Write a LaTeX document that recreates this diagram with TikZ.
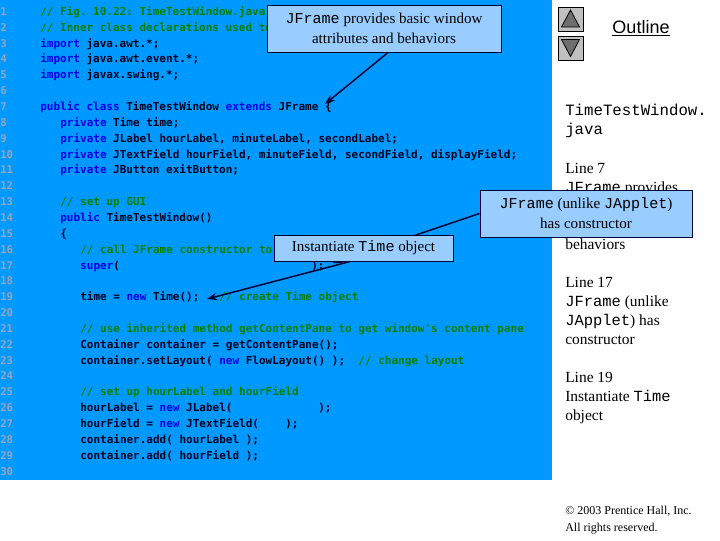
\documentclass[tikz,border=0pt]{standalone}
\usepackage{fontspec}
\setmainfont{Liberation Serif}
\setmonofont{DejaVu Sans Mono}
\newfontfamily\notemono{Liberation Mono}
\newfontfamily\headsans{Liberation Sans}
\usetikzlibrary{arrows.meta}

\definecolor{panelblue}{RGB}{0,153,255}
\definecolor{codeink}{RGB}{0,0,30}
\definecolor{kwblue}{RGB}{0,0,230}
\definecolor{cmgreen}{RGB}{0,128,0}
\definecolor{linegray}{RGB}{150,165,190}
\definecolor{calloutfill}{RGB}{153,204,255}
\definecolor{calloutline}{RGB}{0,0,60}
\definecolor{pointink}{RGB}{0,0,51}
\definecolor{navgray}{RGB}{192,192,192}
\definecolor{navdark}{RGB}{110,110,110}

\newcommand{\kwd}[1]{\textcolor{kwblue}{#1}}
\newcommand{\cmt}[1]{\textcolor{cmgreen}{#1}}
\newcommand{\jcode}[1]{{\notemono #1}}

\begin{document}
\begin{tikzpicture}[x=0.75pt,y=0.75pt,yscale=-1,xscale=1,
	codeline/.style={anchor=base west, inner sep=0pt, text=codeink, font=\ttfamily\bfseries\fontsize{8.25}{10}\selectfont},
	lineno/.style={anchor=base west, inner sep=0pt, text=linegray, font=\ttfamily\bfseries\fontsize{8}{9}\selectfont},
	sidenote/.style={anchor=base west, inner sep=0pt, font=\fontsize{11.6}{14}\selectfont},
	callout/.style={draw=calloutline, fill=calloutfill, line width=0.75pt, align=center, inner sep=0pt, font=\fontsize{11.3}{15}\selectfont},
	pointer/.style={draw=pointink, line width=1.1pt, -{Stealth[length=7.5pt,width=5.5pt]}},
	navbox/.style={draw=black, fill=navgray, line width=0.75pt},
	navtri/.style={draw=black, fill=navdark, line width=0.6pt}]
	\useasboundingbox (0,0) rectangle (720,540);
	\fill[white] (0,0) rectangle (720,540);
	
	%Shape: Rectangle
	\fill[panelblue] (0,0) rectangle (552,480);
	
	% Line numbers
	\node[lineno] (n1) at (0,15.4) {1};
	\node[lineno] (n2) at (0,31.25) {2};
	\node[lineno] (n3) at (0,47.1) {3};
	\node[lineno] (n4) at (0,62.95) {4};
	\node[lineno] (n5) at (0,78.8) {5};
	\node[lineno] (n6) at (0,94.65) {6};
	\node[lineno] (n7) at (0,110.5) {7};
	\node[lineno] (n8) at (0,126.35) {8};
	\node[lineno] (n9) at (0,142.2) {9};
	\node[lineno] (n10) at (0,158.05) {10};
	\node[lineno] (n11) at (0,173.9) {11};
	\node[lineno] (n12) at (0,189.75) {12};
	\node[lineno] (n13) at (0,205.6) {13};
	\node[lineno] (n14) at (0,221.45) {14};
	\node[lineno] (n15) at (0,237.3) {15};
	\node[lineno] (n16) at (0,253.15) {16};
	\node[lineno] (n17) at (0,269.0) {17};
	\node[lineno] (n18) at (0,284.85) {18};
	\node[lineno] (n19) at (0,300.7) {19};
	\node[lineno] (n20) at (0,316.55) {20};
	\node[lineno] (n21) at (0,332.4) {21};
	\node[lineno] (n22) at (0,348.25) {22};
	\node[lineno] (n23) at (0,364.1) {23};
	\node[lineno] (n24) at (0,379.95) {24};
	\node[lineno] (n25) at (0,395.8) {25};
	\node[lineno] (n26) at (0,411.65) {26};
	\node[lineno] (n27) at (0,427.5) {27};
	\node[lineno] (n28) at (0,443.35) {28};
	\node[lineno] (n29) at (0,459.2) {29};
	\node[lineno] (n30) at (0,475.05) {30};
	
	% Code lines
	\node[codeline] (c1) at (40,15.4) {\cmt{// Fig. 10.22: TimeTestWindow.java}};
	\node[codeline] (c2) at (40,31.25) {\cmt{// Inner class declarations used to}};
	\node[codeline] (c3) at (40,47.1) {\kwd{import} java.awt.*;};
	\node[codeline] (c4) at (40,62.95) {\kwd{import} java.awt.event.*;};
	\node[codeline] (c5) at (40,78.8) {\kwd{import} javax.swing.*;};
	\node[codeline] (c7) at (40,110.5) {\kwd{public class} TimeTestWindow \kwd{extends} JFrame \{};
	\node[codeline] (c8) at (60,126.35) {\kwd{private} Time time;};
	\node[codeline] (c9) at (60,142.2) {\kwd{private} JLabel hourLabel, minuteLabel, secondLabel;};
	\node[codeline] (c10) at (60,158.05) {\kwd{private} JTextField hourField, minuteField, secondField, displayField;};
	\node[codeline] (c11) at (60,173.9) {\kwd{private} JButton exitButton;};
	\node[codeline] (c13) at (60,205.6) {\cmt{// set up GUI}};
	\node[codeline] (c14) at (60,221.45) {\kwd{public} TimeTestWindow()};
	\node[codeline] (c15) at (60,237.3) {\{};
	\node[codeline] (c16) at (80,253.15) {\cmt{// call JFrame constructor to}};
	\node[codeline] (c17) at (80,269.0) {\kwd{super}(};
	\node[codeline] (c17b) at (311,269.0) {);};
	\node[codeline] (c19) at (80,300.7) {time = \kwd{new} Time();\ \ \ \cmt{// create Time object}};
	\node[codeline] (c21) at (80,332.4) {\cmt{// use inherited method getContentPane to get window's content pane}};
	\node[codeline] (c22) at (80,348.25) {Container container = getContentPane();};
	\node[codeline] (c23) at (80,364.1) {container.setLayout( \kwd{new} FlowLayout() );\ \ \cmt{// change layout}};
	\node[codeline] (c25) at (80,395.8) {\cmt{// set up hourLabel and hourField}};
	\node[codeline] (c26) at (80,411.65) {hourLabel = \kwd{new} JLabel(};
	\node[codeline] (c26b) at (318,411.65) {);};
	\node[codeline] (c27) at (80,427.5) {hourField = \kwd{new} JTextField(};
	\node[codeline] (c27b) at (285,427.5) {);};
	\node[codeline] (c28) at (80,443.35) {container.add( hourLabel );};
	\node[codeline] (c29) at (80,459.2) {container.add( hourField );};
	
	% Navigation buttons
	\draw[navbox] (558,7) rectangle (583,31);
	\draw[navtri] (561.5,27) -- (579.5,27) -- (570.5,10) -- cycle;
	\draw[navbox] (558,36) rectangle (583,60);
	\draw[navtri] (561.5,39.5) -- (579.5,39.5) -- (570.5,56.5) -- cycle;
	
	% Text Node
	\node[inner sep=0pt, font=\headsans\fontsize{13.5}{16}\selectfont] (outline) at (641,28) {\underline{Outline}};
	
	% Side notes
	\node[sidenote, font=\notemono\fontsize{11.8}{14}\selectfont] (s1) at (565,115) {TimeTestWindow.};
	\node[sidenote, font=\notemono\fontsize{11.8}{14}\selectfont] (s2) at (565,134) {java};
	\node[sidenote] (s3) at (565,173) {Line 7};
	\node[sidenote] (s4) at (565,192) {\jcode{JFrame} provides};
	\node[sidenote] (s5) at (565,249) {behaviors};
	\node[sidenote] (s6) at (565,287) {Line 17};
	\node[sidenote] (s7) at (565,306) {\jcode{JFrame} (unlike};
	\node[sidenote] (s8) at (565,325) {\jcode{JApplet}) has};
	\node[sidenote] (s9) at (565,344) {constructor};
	\node[sidenote] (s10) at (565,382) {Line 19};
	\node[sidenote] (s11) at (565,401) {Instantiate \jcode{Time}};
	\node[sidenote] (s12) at (565,420) {object};
	\node[sidenote, font=\fontsize{9}{11}\selectfont] (copy1) at (565,514) {\textcopyright{} 2003 Prentice Hall, Inc.};
	\node[sidenote, font=\fontsize{9}{11}\selectfont] (copy2) at (565,531) {All rights reserved.};
	
	% Callouts and pointers
	\coordinate (tipA) at (325,104);
	\coordinate (tipB) at (333,263);
	\coordinate (tipC) at (207,299);
	\node[callout, minimum width=159pt, minimum height=35.25pt] (callC) at (586,213.5) {\jcode{JFrame} (unlike \jcode{JApplet})\\has constructor};
	\draw[pointer] (callC.west) -- (tipB);
	\node[callout, minimum width=134.25pt, minimum height=19.5pt] (callB) at (363.5,248) {Instantiate \jcode{Time} object};
	\draw[pointer] ([xshift=-10pt]callB.south) -- (tipC);
	\node[callout, minimum width=175.5pt, minimum height=35.25pt] (callA) at (384,28.5) {\jcode{JFrame} provides basic window\\attributes and behaviors};
	\draw[pointer] ([xshift=3pt]callA.south) -- (tipA);
	
\end{tikzpicture}
\end{document}
